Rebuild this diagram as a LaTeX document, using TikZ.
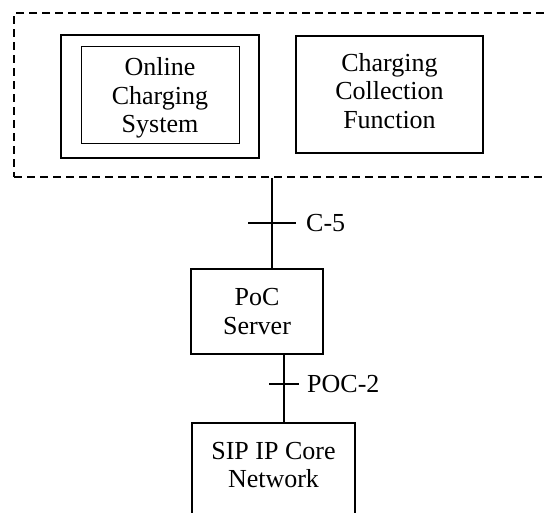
\documentclass[tikz,border=0pt]{standalone}
\usepackage{fontspec}
\setmainfont{Liberation Serif}
\begin{document}
\begin{tikzpicture}[x=1pt,y=-1pt,
  box/.style={draw, line width=1.5pt, rectangle, inner sep=0pt},
  thinbox/.style={draw, line width=0.9pt, rectangle, inner sep=0pt},
  grpbox/.style={draw, line width=1.5pt, dash pattern=on 8pt off 5pt, rectangle, inner sep=0pt},
  txt/.style={align=center, font=\fontsize{26pt}{28.7pt}\selectfont, inner sep=0pt},
  lbl/.style={anchor=west, font=\fontsize{26pt}{28.7pt}\selectfont, inner sep=0pt},
  conn/.style={line width=1.5pt}]
\useasboundingbox (0,0) rectangle (544,512);
\clip (0,0) rectangle (544,512);
% group (dashed)
\node[grpbox, minimum width=534pt, minimum height=164pt] (grp) at (281,95) {};
% Online Charging System
\node[box, minimum width=198pt, minimum height=123pt] (ocsout) at (160,96.5) {};
\node[thinbox, minimum width=158pt, minimum height=97pt] (ocsin) at (160,94.5) {};
\node[txt] (ocstxt) at (160,98) {Online\\Charging\\System};
% Charging Collection Function
\node[box, minimum width=187pt, minimum height=117pt] (ccf) at (389.5,94.5) {};
\node[txt] (ccftxt) at (389.5,91) {Charging\\Collection\\Function};
% PoC Server
\node[box, minimum width=132pt, minimum height=85pt, txt] (poc) at (257,311.5) {PoC\\Server};
% SIP IP Core Network
\node[box, minimum width=163pt, minimum height=110pt] (sip) at (273.5,478) {};
\node[txt] (siptxt) at (273.5,465) {SIP IP Core\\Network};
% connector C-5
\coordinate (xa) at (272,0);
\draw[conn] (grp.south -| xa) -- (poc.north -| xa);
\coordinate (t1) at (272,223);
\draw[conn] ([xshift=-24pt]t1) -- ([xshift=24pt]t1);
\node[lbl] (c5) at (306,223) {C-5};
% connector POC-2
\coordinate (xb) at (284,0);
\draw[conn] (poc.south -| xb) -- (sip.north -| xb);
\coordinate (t2) at (284,384);
\draw[conn] ([xshift=-15pt]t2) -- ([xshift=15pt]t2);
\node[lbl] (poc2) at (307,384) {POC-2};
\end{tikzpicture}
\end{document}
